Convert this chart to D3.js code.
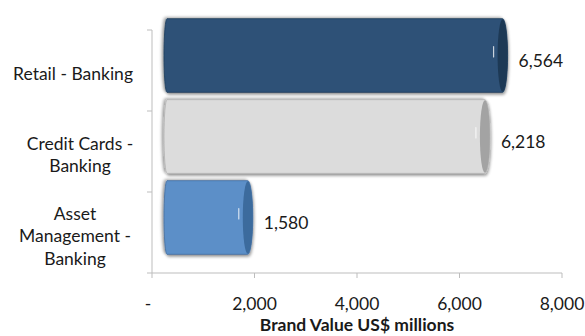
<!DOCTYPE html>
<html>
<head>
<meta charset="utf-8">
<script src="https://cdn.jsdelivr.net/npm/d3@7"></script>
<style>
  html, body { margin: 0; padding: 0; background: #ffffff; }
  svg { display: block; }
  text { font-family: Lato, "Noto Sans", sans-serif; fill: #1a1a1a; }
</style>
</head>
<body>
<svg id="chart" width="585" height="336"></svg>
<script>
// Brand value by business line (US$ millions)
const categories = [
  ["Retail - Banking"],
  ["Credit Cards -", "Banking"],
  ["Asset", "Management -", "Banking"]
];
const values = [6564, 6218, 1580];
const tickValues = [0, 2000, 4000, 6000, 8000];
const axisTitle = "Brand Value US$ millions";

// body / end-cap colours for each cylinder
const bodyColors = ["#2d5177", "#dcdcdc", "#5b8fc8"];
const capColors  = ["#1d3955", "#a3a3a3", "#3c6b9d"];
const edgeColors = ["#203d5c", "#b4b4b4", "#456f9f"];

const svg = d3.select("#chart");
const margin = { left: 152, right: 23, top: 30, bottom: 63 };
const W = 585, H = 336;
const fontSize = 17.5;

const x = d3.scaleLinear().domain([0, 8000]).range([margin.left, W - margin.right]);
const y = d3.scaleBand().domain(d3.range(categories.length))
  .range([margin.top, H - margin.bottom]).paddingInner(0).paddingOuter(0);

// bars sit on the receding plane of the 3-D plot area
const xBar = d3.scaleLinear().domain([0, 8000]).range([x(0) + 15, x(8000) + 14]);
const barShiftY = -15;
const barH = y.bandwidth() * 0.91;
const capRx = 5;
const tailRx = 3;

const defs = svg.append("defs");
const shadow = defs.append("filter").attr("id", "shadow")
  .attr("x", "-10%").attr("y", "-25%").attr("width", "120%").attr("height", "150%");
shadow.append("feGaussianBlur").attr("in", "SourceAlpha").attr("stdDeviation", 1.8).attr("result", "blur");
shadow.append("feOffset").attr("in", "blur").attr("dx", -2.5).attr("dy", -1.5).attr("result", "back");
shadow.append("feComponentTransfer").attr("in", "back").attr("result", "backFade")
  .append("feFuncA").attr("type", "linear").attr("slope", 0.35);
shadow.append("feOffset").attr("in", "blur").attr("dx", 0.5).attr("dy", 1.8).attr("result", "drop");
shadow.append("feComponentTransfer").attr("in", "drop").attr("result", "dropFade")
  .append("feFuncA").attr("type", "linear").attr("slope", 0.4);
const merge = shadow.append("feMerge");
merge.append("feMergeNode").attr("in", "backFade");
merge.append("feMergeNode").attr("in", "dropFade");
merge.append("feMergeNode").attr("in", "SourceGraphic");

// axis lines and ticks
const axisColor = "#bdbdbd";
const gAxis = svg.append("g");
gAxis.append("line").attr("x1", x(0)).attr("x2", x(0))
  .attr("y1", margin.top).attr("y2", H - margin.bottom + 5)
  .attr("stroke", axisColor).attr("stroke-width", 1);
gAxis.append("line").attr("x1", x(0)).attr("x2", x(8000))
  .attr("y1", H - margin.bottom).attr("y2", H - margin.bottom)
  .attr("stroke", axisColor).attr("stroke-width", 1);

const bounds = d3.range(categories.length + 1).map(i =>
  i < categories.length ? y(i) : y(categories.length - 1) + y.bandwidth());
gAxis.selectAll(".ytick").data(bounds).join("line")
  .attr("x1", x(0) - 5).attr("x2", x(0))
  .attr("y1", d => d).attr("y2", d => d)
  .attr("stroke", axisColor);

gAxis.selectAll(".xtick").data(tickValues.slice(1)).join("line")
  .attr("x1", d => x(d)).attr("x2", d => x(d))
  .attr("y1", H - margin.bottom).attr("y2", H - margin.bottom + 5)
  .attr("stroke", axisColor);

const fmt = d3.format(",");
svg.append("g").selectAll("text").data(tickValues).join("text")
  .attr("x", d => x(d) - (d === 0 ? 4 : 0))
  .attr("y", 310)
  .attr("text-anchor", "middle")
  .attr("font-size", fontSize)
  .text(d => d === 0 ? "-" : fmt(d));

svg.append("text")
  .attr("x", (x(0) + x(8000)) / 2).attr("y", 331)
  .attr("text-anchor", "middle").attr("font-size", 17.5).attr("font-weight", "bold")
  .text(axisTitle);

// category labels
const lineGap = 22.5;
const gCat = svg.append("g");
categories.forEach((lines, i) => {
  const cy = y(i) + y.bandwidth() / 2 + 3.5;
  const t = gCat.append("text").attr("font-size", fontSize)
    .attr("text-anchor", lines.length === 1 ? "end" : "middle");
  const cx = lines.length === 1 ? 133 : (i === 1 ? 80 : 75);
  lines.forEach((ln, j) => {
    t.append("tspan").attr("x", cx)
      .attr("y", cy + 6 + (j - (lines.length - 1) / 2) * lineGap)
      .text(ln);
  });
});

// cylinders
function cylinderPath(x0, x1, top, h) {
  const ry = h / 2;
  return `M${x0},${top} L${x1},${top} A${capRx},${ry} 0 0 1 ${x1},${top + h} ` +
         `L${x0},${top + h} A${tailRx},${ry} 0 0 1 ${x0},${top} Z`;
}

const gBars = svg.append("g");
values.forEach((v, i) => {
  const top = y(i) + (y.bandwidth() - barH) / 2 + barShiftY;
  const x0 = xBar(0), x1 = xBar(v);
  const g = gBars.append("g");
  g.append("path").attr("d", cylinderPath(x0, x1, top, barH))
    .attr("fill", bodyColors[i]).attr("stroke", edgeColors[i]).attr("stroke-width", 0.8)
    .attr("filter", "url(#shadow)");
  g.append("ellipse").attr("cx", x1).attr("cy", top + barH / 2)
    .attr("rx", capRx).attr("ry", barH / 2 - 0.5)
    .attr("fill", capColors[i]);
  // glint on the near edge of the end cap
  g.append("line").attr("x1", x1 - capRx - 4).attr("x2", x1 - capRx - 4)
    .attr("y1", top + barH * 0.38).attr("y2", top + barH * 0.52)
    .attr("stroke", "#ffffff").attr("stroke-opacity", 0.75).attr("stroke-width", 1.2)
    .attr("stroke-linecap", "round");

  svg.append("text")
    .attr("x", x1 + capRx + 11)
    .attr("y", y(i) + y.bandwidth() / 2 - 4)
    .attr("font-size", fontSize)
    .text(fmt(v));
});
</script>
</body>
</html>
